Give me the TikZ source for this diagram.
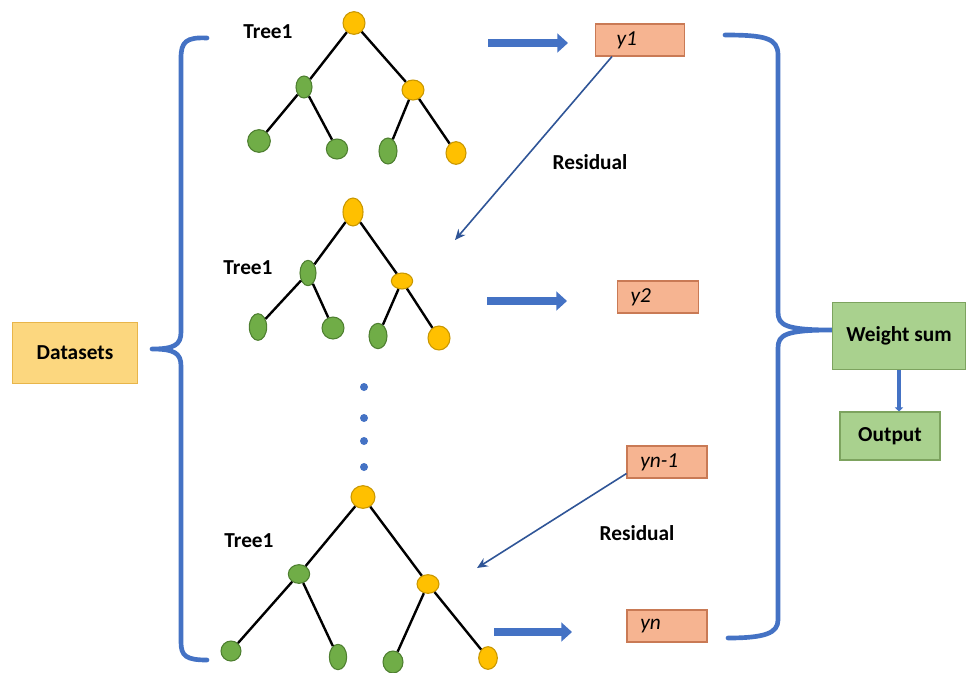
\documentclass[tikz,border=0pt]{standalone}
\usepackage{fontspec}
\setmainfont{Carlito}
\usetikzlibrary{arrows.meta,calc,positioning,shapes.geometric}
\definecolor{Blue}{HTML}{4472C4}
\definecolor{DeepBlue}{HTML}{2F5597}
\definecolor{DataFill}{HTML}{FCD77F}
\definecolor{DataEdge}{HTML}{E8B54A}
\definecolor{YFill}{HTML}{F6B491}
\definecolor{YEdge}{HTML}{C97A55}
\definecolor{SumFill}{HTML}{A9D18E}
\definecolor{SumEdge}{HTML}{7DA35F}
\definecolor{Amber}{HTML}{FFC000}
\definecolor{AmberEdge}{HTML}{C99700}
\definecolor{Leaf}{HTML}{70AD47}
\definecolor{LeafEdge}{HTML}{4E7F30}
\tikzset{
  dataset/.style={
    draw=DataEdge, thick, fill=DataFill,
    minimum width=94pt, minimum height=46pt,
    font=\bfseries\fontsize{16}{19}\selectfont
  },
  ybox/.style={
    draw=YEdge, thick, fill=YFill, minimum height=24pt,
    text width=#1, inner xsep=10pt, align=left,
    font=\itshape\fontsize{16}{19}\selectfont
  },
  sumbox/.style={
    draw=SumEdge, thick, fill=SumFill,
    font=\bfseries\fontsize{16}{19}\selectfont
  },
  gknot/.style 2 args={
    ellipse, draw=LeafEdge, thick, fill=Leaf, inner sep=0pt,
    minimum width=#1, minimum height=#2
  },
  oknot/.style 2 args={
    ellipse, draw=AmberEdge, thick, fill=Amber, inner sep=0pt,
    minimum width=#1, minimum height=#2
  },
  dotn/.style={circle, fill=Blue, inner sep=0pt, minimum size=6pt},
  txt/.style={font=\bfseries\fontsize{16}{19}\selectfont},
  treelink/.style={line width=1.8pt, draw=black},
  bigarrow/.style={line width=6pt, draw=Blue, -{Triangle[length=8pt,width=14pt]}},
  downarrow/.style={line width=3pt, draw=Blue, -{Triangle[length=3pt,width=6pt]}},
  resarrow/.style={line width=1.2pt, draw=DeepBlue, -{Stealth[length=8pt,width=7pt]}},
  brace/.style={line width=3.5pt, draw=Blue, line cap=round, line join=round}
}

\begin{document}
\begin{tikzpicture}[x=0.75pt,y=-0.75pt]
  \useasboundingbox (0,0) rectangle (968,672);
  \node[dataset] (data) at (75,353) {Datasets};

  \node[oknot={16.5pt}{17pt}] (ar) at (354,23) {};
  \node[gknot={12pt}{16.5pt}] (al) at (304,87) {};
  \node[oknot={16.5pt}{15pt}] (am) at (413,90) {};
  \node[gknot={17pt}{17pt}] (all) at (259,141) {};
  \node[gknot={16pt}{15pt}] (alr) at (337,149) {};
  \node[gknot={13.5pt}{19.5pt}] (aml) at (388,151) {};
  \node[oknot={15pt}{17pt}] (amr) at (456,153) {};
  \node[txt] (tree1) at (268,32) {Tree1};
  \draw[treelink] (ar)--(al) (ar)--(am) (al)--(all) (al)--(alr) (am)--(aml) (am)--(amr);

  \node[oknot={15pt}{21pt}] (br) at (353,212) {};
  \node[gknot={12pt}{19pt}] (bl) at (308,273) {};
  \node[oknot={16pt}{12pt}] (bm) at (402,281) {};
  \node[gknot={13pt}{20pt}] (bll) at (258,327) {};
  \node[gknot={16.5pt}{16.5pt}] (blr) at (333,328) {};
  \node[gknot={13.5pt}{19pt}] (bml) at (378,336) {};
  \node[oknot={16.5pt}{18pt}] (bmr) at (439,338) {};
  \node[txt] (tree2) at (248,268) {Tree1};
  \draw[treelink] (br)--(bl) (br)--(bm) (bl)--(bll) (bl)--(blr) (bm)--(bml) (bm)--(bmr);

  \foreach \i/\yy in {1/387,2/418,3/441,4/467}
    \node[dotn] (dot\i) at (364,\yy) {};

  \node[oknot={18pt}{17pt}] (cr) at (363,497) {};
  \node[gknot={16pt}{14pt}] (cl) at (299,574) {};
  \node[oknot={16.5pt}{14pt}] (cm) at (428,584) {};
  \node[gknot={15pt}{15pt}] (cll) at (231,651) {};
  \node[gknot={13pt}{19pt}] (clr) at (338,657) {};
  \node[gknot={15pt}{16.5pt}] (cml) at (393,662) {};
  \node[oknot={14pt}{17pt}] (cmr) at (488,658) {};
  \node[txt] (tree3) at (249,541) {Tree1};
  \draw[treelink] (cr)--(cl) (cr)--(cm) (cl)--(cll) (cl)--(clr) (cm)--(cml) (cm)--(cmr);

  \node[ybox=47pt] (y1) at (640,40) {\hspace*{6pt}y1};
  \node[ybox=41pt] (y2) at (658,297) {y2};
  \node[ybox=40pt] (yn1) at (667,462) {yn-1};
  \node[ybox=40pt] (yn) at (667,626) {yn};

  \coordinate (a1s) at (488,43);
  \coordinate (a1e) at (568,43);
  \coordinate (a2s) at (487,301);
  \coordinate (a2e) at (567,301);
  \coordinate (a3s) at (494,632);
  \coordinate (a3e) at (572,632);
  \draw[bigarrow] (a1s) -- (a1e);
  \draw[bigarrow] (a2s) -- (a2e);
  \draw[bigarrow] (a3s) -- (a3e);

  \coordinate (r1end) at (455,240);
  \coordinate (r2end) at (477,568);
  \draw[resarrow] ($(y1.south)+(-28,0)$) -- (r1end);
  \draw[resarrow] ($(yn1.south west)+(0,-5)$) -- (r2end);
  \node[txt] (res1) at (590,162) {Residual};
  \node[txt] (res2) at (637,533) {Residual};

  \draw[brace] (207,38) .. controls (186,37) and (181,42) .. (181,58) -- (181,332)
    .. controls (181,345) and (174,349) .. (152,349)
    .. controls (174,349) and (181,353) .. (181,366) -- (181,642)
    .. controls (181,656) and (186,660) .. (207,660);
  \draw[brace] (725,35) .. controls (765,35) and (778,38) .. (778,55) -- (778,312)
    .. controls (778,325) and (785,330) .. (832,330)
    .. controls (785,330) and (778,335) .. (778,348) -- (778,620)
    .. controls (778,633) and (765,638) .. (728,638);

  \node[sumbox, minimum width=100pt, minimum height=50pt] (wsum) at (899,336) {Weight sum};
  \node[sumbox, minimum width=75pt, minimum height=36pt] (out) at (890,436) {Output};
  \draw[downarrow] (wsum.south) -- (wsum.south |- out.north);
\end{tikzpicture}
\end{document}
